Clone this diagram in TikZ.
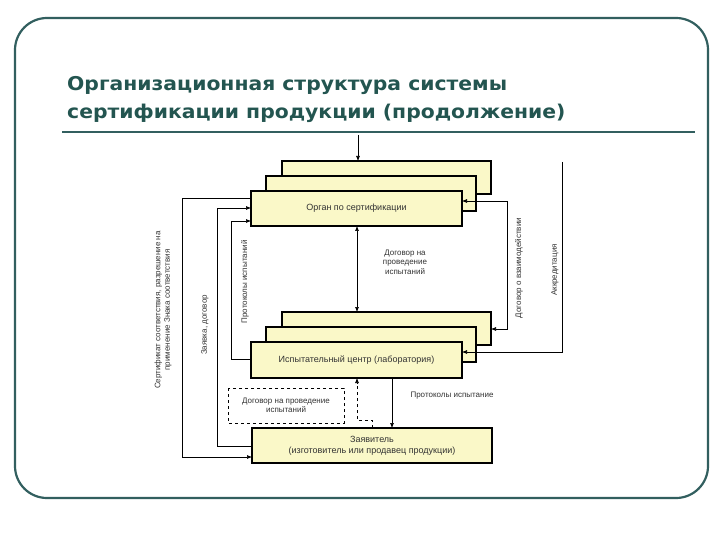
\documentclass[tikz,border=0pt]{standalone}
\usepackage{fontspec}
\setmainfont{Liberation Sans}
\newfontfamily\titlefont{DejaVu Sans}
\usetikzlibrary{arrows.meta}
\definecolor{teal1}{RGB}{50,95,95}
\definecolor{titc}{RGB}{35,85,80}
\definecolor{boxy}{RGB}{250,248,200}
\begin{document}
\begin{tikzpicture}[x=1pt,y=-1pt,
  bx/.style={draw=black,line width=1.3pt,fill=boxy},
  ln/.style={line width=0.6pt},
  ar/.style={ln,-{Latex[length=5pt,width=4pt]}},
  lbl/.style={font=\fontsize{8}{9.5}\selectfont,align=center,text=black!80}]
\useasboundingbox (0,0) rectangle (720,540);
\fill[white] (0,0) rectangle (720,540);
\draw[teal1,line width=2.2pt,rounded corners=32pt] (15,18) rectangle (708,498);
\node[anchor=base west,font=\titlefont\bfseries\fontsize{19}{28}\selectfont,text=titc,inner sep=0] (title1) at (67,91) {\scalebox{1.07}[1]{Организационная структура системы}};
\node[anchor=base west,font=\titlefont\bfseries\fontsize{19}{28}\selectfont,text=titc,inner sep=0] (title2) at (67,119) {\scalebox{1.07}[1]{сертификации продукции (продолжение)}};
\draw[teal1,line width=2.5pt] (62,132) -- (695,132);
% top stack
\draw[bx] (282,161) rectangle (491,194);
\draw[bx] (266,176) rectangle (476,211);
\draw[bx] (251,191) rectangle (462,226);
\node[lbl,font=\fontsize{9}{11}\selectfont] (organ) at (356.5,208.5) {Орган по сертификации};
\coordinate (topin) at (358,135);
\draw[ar] (topin) -- (358,161);
% lab stack
\draw[bx] (282,312) rectangle (491,345);
\draw[bx] (266,327) rectangle (476,362);
\draw[bx] (251,342) rectangle (462,378);
\node[lbl,font=\fontsize{9}{11}\selectfont] (lab) at (356.5,360) {Испытательный центр (лаборатория)};
% applicant
\draw[bx] (252,428) rectangle (492,463);
\node[lbl,font=\fontsize{9}{11}\selectfont] (app) at (372,445.5) {Заявитель\\(изготовитель или продавец продукции)};
% dashed box
\draw[dashed,line width=0.8pt] (228,388) rectangle (344,423);
\node[lbl] (dog2) at (286,405.5) {Договор на проведение\\испытаний};
% center double arrow
\draw[ln,{Latex[length=5pt,width=4pt]}-{Latex[length=5pt,width=4pt]}] (357,226) -- (357,312);
\node[lbl] (dog1) at (405,262) {Договор на\\проведение\\испытаний};
% lab -> applicant
\draw[ar] (392,378) -- (392,428);
\node[lbl,anchor=west] (prot2) at (407,396) {Протоколы испытание};
% dashed arrow
\draw[ln,dashed,-{Latex[length=5pt,width=4pt]}] (372,428) -- (372,420) -- (357,420) -- (357,378);
% left lines
\draw[ar] (251,198) -- (182,198) -- (182,457) -- (252,457);
\draw[ar] (252,446) -- (217,446) -- (217,208) -- (251,208);
\draw[ar] (251,359) -- (231,359) -- (231,221) -- (251,221);
\node[lbl,rotate=90] (sert) at (163,310) {Сертификат соответствия, разрешение на\\применение Знака соответствия};
\node[lbl,rotate=90] (zay) at (205,325) {Заявка, договор};
\node[lbl,rotate=90] (prot1) at (245,282) {Протоколы испытаний};
% right lines
\draw[ln,{Latex[length=5pt,width=4pt]}-{Latex[length=5pt,width=4pt]}] (462,201) -- (507,201) -- (507,329) -- (491,329);
\draw[ar] (562,162) -- (562,352) -- (462,352);
\node[lbl,rotate=90] (dvz) at (519,268) {Договор о взаимодействии};
\node[lbl,rotate=90] (akk) at (555,270) {Аккредитация};
\end{tikzpicture}
\end{document}
